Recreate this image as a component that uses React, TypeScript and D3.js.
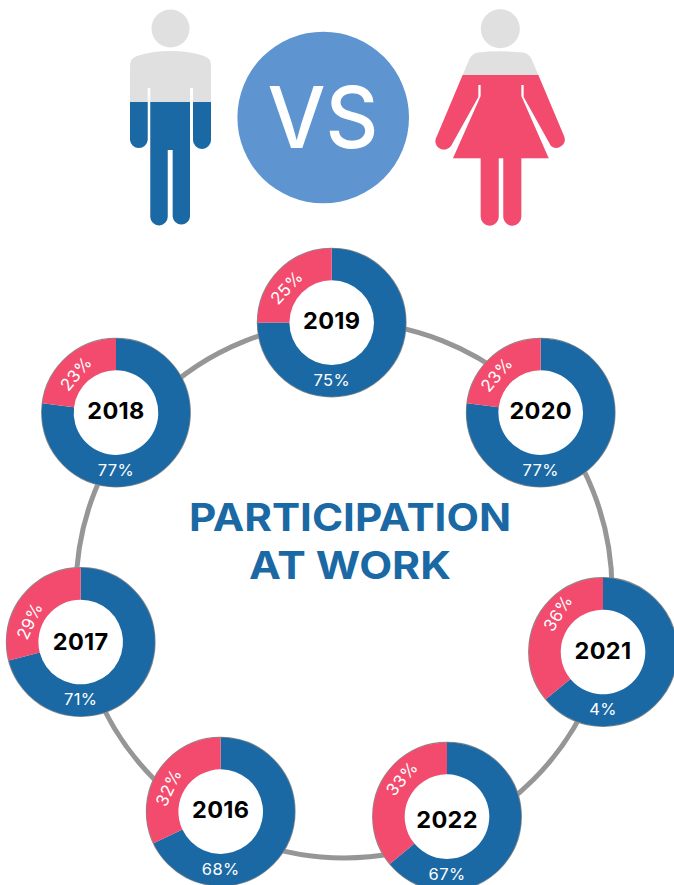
import React from "react";
import * as d3 from "d3";

const years = ["2019", "2020", "2021", "2022", "2016", "2017", "2018"];
const maleShare = [75, 77, 64, 64, 68, 71, 77];
const femaleShare = [25, 23, 36, 36, 32, 29, 23];
const maleLabels = ["75%", "77%", "4%", "67%", "68%", "71%", "77%"];
const femaleLabels = ["25%", "23%", "36%", "33%", "32%", "29%", "23%"];

const BLUE = "#1a69a4";
const PINK = "#f34b6d";
const GREY = "#e0e0e0";
const FONT = "Inter, 'Open Sans', sans-serif";

// layout (pixels)
const centers: [number, number][] = [
  [331.7, 322.6], [540.7, 412.6], [603, 652], [447, 816.6], [220.7, 811.6], [80.7, 642], [116, 412.6],
];
const yearBaseline = [6.5, 6.5, 6.5, 11.5, 6.5, 7.5, 6.5];
const pinkLabelOffset: [number, number, number][] = [
  [-45, -35, -47], [-44, -38, -50], [-45, -39, -58], [-45, -38, -50], [-52, -24, -65], [-51, -21, -65], [-40, -39, -50],
];

const pie = d3.pie<number>().sort(null).value((d) => d);
const arc = d3.arc<d3.PieArcDatum<number>>().innerRadius(42.3).outerRadius(74.2);

const man =
  "M130 66 Q130 58 137 56 Q152 51 170.5 51 Q189 51 204 56 Q211 58 211 66 L211 140 A9 9 0 0 1 193 140 L193 88 L190 88 L190 216.7 A8.7 8.7 0 0 1 172.7 216.7 L172.7 150 L167.7 150 L167.7 216.7 A8.7 8.7 0 0 1 150.3 216.7 L150.3 88 L147.7 88 L147.7 140 A8.9 8.9 0 0 1 130 140 Z";
const woman =
  "M469 60 Q472 53 478 52.5 Q500 50 523 52.5 Q529 53 532 60 L564 136 A8.5 8.5 0 0 1 551 146 L523.7 97 L523.7 85 L521.3 85 L521.3 96 L548.7 158.3 L521.3 158.3 L521.3 216.7 A9 9 0 0 1 503.3 216.7 L503.3 158.3 L498.7 158.3 L498.7 216.7 A9 9 0 0 1 480.7 216.7 L480.7 158.3 L453 158.3 L480.7 96 L480.7 85 L478.3 85 L478.3 97 L451 146 A8.5 8.5 0 0 1 437 136 Z";

function Person({ d, split, color, id, head }: { d: string; split: number; color: string; id: string; head: [number, number, number] }) {
  return (
    <g>
      <circle cx={head[0]} cy={head[1]} r={head[2]} fill={GREY} />
      <path d={d} fill={GREY} />
      <clipPath id={id}>
        <rect x={0} y={split} width={674} height={300} />
      </clipPath>
      <path d={d} fill={color} clipPath={`url(#${id})`} />
    </g>
  );
}

export default function App() {
  return (
    <svg width={674} height={885} style={{ position: "absolute", left: 0, top: 0, background: "#fff" }} fontFamily={FONT}>
      <Person d={man} split={102} color={BLUE} id="m" head={[170.5, 28.5, 19]} />
      <Person d={woman} split={75} color={PINK} id="w" head={[500.3, 28.7, 19.5]} />
      <circle cx={323.2} cy={117.5} r={85.8} fill="#5e95d0" />
      <text x={323} y={148} textAnchor="middle" fill="#fff" fontSize={85} fontWeight={500} textLength={111} lengthAdjust="spacingAndGlyphs">VS</text>

      <circle cx={344} cy={590} r={268} fill="none" stroke="#969696" strokeWidth={5} />

      <text x={350} y={531} textAnchor="middle" fill={BLUE} fontSize={38} fontWeight={700} textLength={322} lengthAdjust="spacingAndGlyphs">PARTICIPATION</text>
      <text x={350} y={579} textAnchor="middle" fill={BLUE} fontSize={38} fontWeight={700} textLength={202} lengthAdjust="spacingAndGlyphs">AT WORK</text>

      {years.map((y, i) => {
        const [cx, cy] = centers[i];
        const slices = pie([maleShare[i], femaleShare[i]]);
        const [ox, oy, rot] = pinkLabelOffset[i];
        return (
          <g key={y} transform={`translate(${cx},${cy})`}>
            <circle r={74.2} fill="#fff" stroke="#8a8a8a" strokeWidth={1.4} />
            <path d={arc(slices[0])!} fill={BLUE} />
            <path d={arc(slices[1])!} fill={PINK} />
            <text y={yearBaseline[i]} textAnchor="middle" fontSize={23.5} fontWeight={700} fill="#000" style={{ letterSpacing: 0.3 }}>{y}</text>
            <text y={63} textAnchor="middle" fontSize={16.5} fontWeight={400} fill="#fff" style={{ letterSpacing: 0.4 }}>{maleLabels[i]}</text>
            <text transform={`translate(${ox},${oy}) rotate(${rot})`} y={6} textAnchor="middle" fontSize={17} fontWeight={400} fill="#fff" style={{ letterSpacing: 0.4 }}>{femaleLabels[i]}</text>
          </g>
        );
      })}
    </svg>
  );
}
